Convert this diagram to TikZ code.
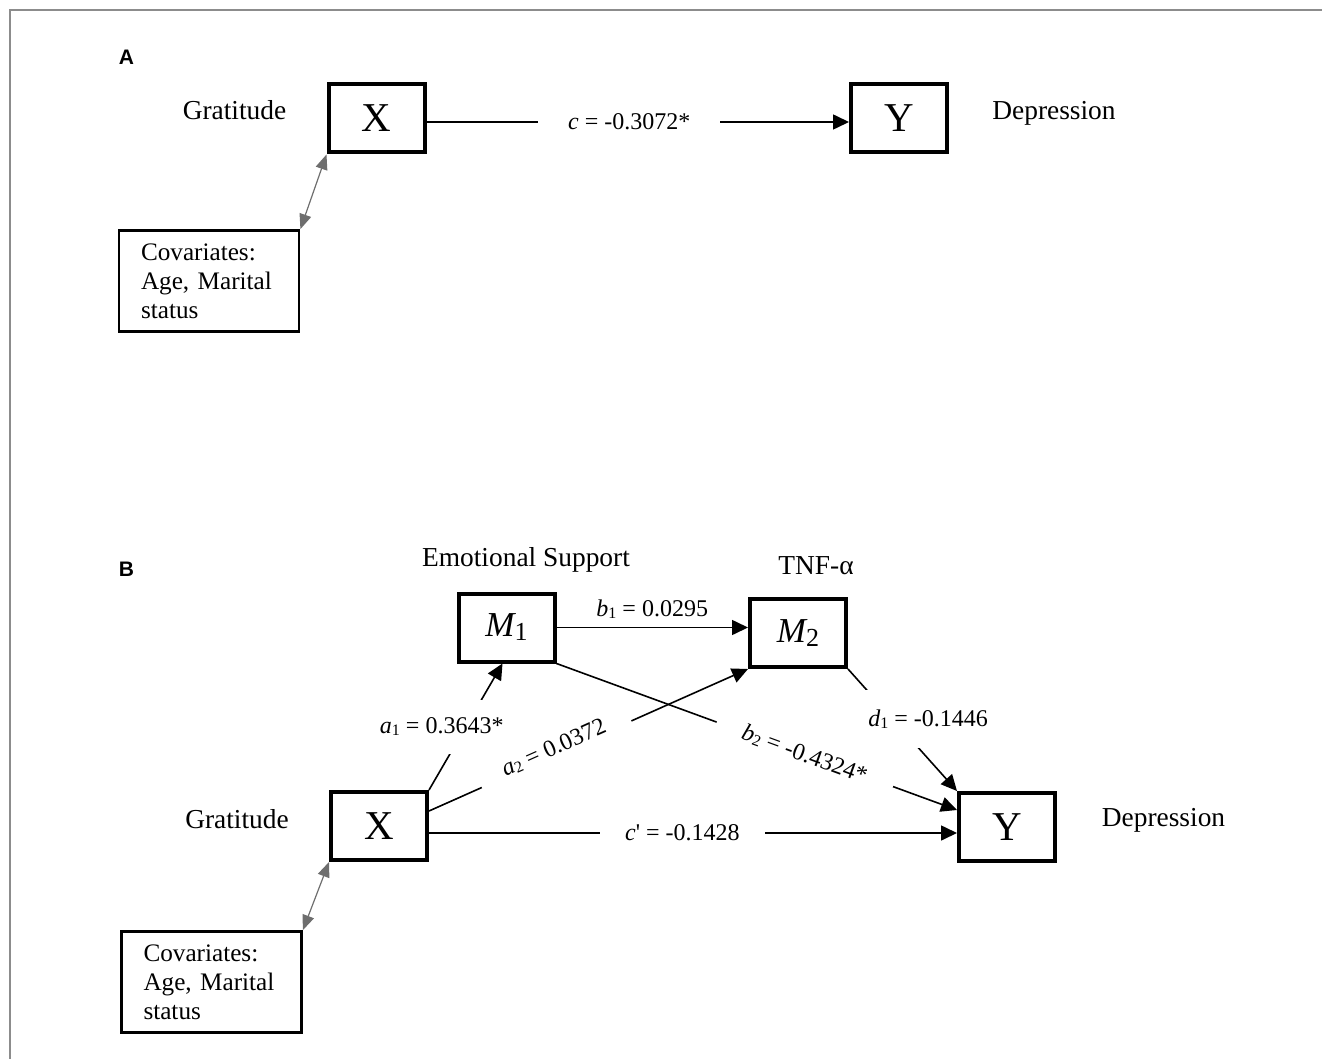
\documentclass[tikz,border=0pt]{standalone}
\usepackage{fontspec}
\setmainfont{Liberation Serif}
\newfontfamily\panelfont{Liberation Sans}
\usetikzlibrary{arrows.meta, positioning}
\definecolor{framegray}{RGB}{140,140,140}
\definecolor{covgray}{RGB}{110,110,110}
\tikzstyle{var}=[draw, line width=2pt, minimum width=48pt,
minimum height=34pt, inner sep=0pt, font=\fontsize{20.5}{22}\selectfont]
\tikzstyle{cov}=[draw, line width=1.4pt, text width=68pt, align=left,
inner xsep=11pt, minimum height=50.5pt, font=\fontsize{12.6}{14.6}\selectfont]
\tikzstyle{varname}=[anchor=base, inner sep=0pt, font=\fontsize{13.7}{16}\selectfont]
\tikzstyle{panel}=[anchor=base, inner sep=0pt, font=\fontsize{10.5}{12}\panelfont\bfseries]
\tikzstyle{coef}=[fill=white, inner sep=1pt, font=\fontsize{12}{14}\selectfont]
\tikzstyle{link}=[line width=0.8pt, -{Triangle[length=8pt,width=7.5pt]}]
\tikzstyle{corr}=[covgray, line width=0.6pt,
{Triangle[length=7.5pt,width=6pt]}-{Triangle[length=7.5pt,width=6pt]}]
\newcommand{\sbs}[1]{{\fontsize{8}{8}\selectfont\raisebox{-0.8pt}{#1}}}
\newcommand{\mvar}[1]{{\fontsize{17.5}{20}\selectfont\itshape M}%
{\fontsize{13}{14}\selectfont\raisebox{-2pt}{#1}}}

\begin{document}
\begin{tikzpicture}[x=0.5pt, y=-0.5pt]
\useasboundingbox (0,0) rectangle (1322,1059);
\draw[framegray, line width=1pt] (10,1059) -- (10,10) -- (1322,10);

% panel A
\draw (126.5,65) node [panel] (panelA) {A};
\draw (376.5,118.5) node [var] (XA) {X};
\draw (899,118.5) node [var] (YA) {Y};
\draw (209,281) node [cov] (covA) {Covariates:\\ Age, Marital\\ status};
\draw (234.5,120) node [varname] (gratA) {Gratitude};
\draw (1054,120) node [varname] (depA) {Depression};
\draw[link] ([yshift=-1.75pt]XA.east) -- ([yshift=-1.75pt]YA.west)
  node [coef, pos=0.48, inner xsep=15pt] {\textit{c} = -0.3072*};
\draw[corr] (covA.north east) -- (XA.south west);

% panel B
\draw (126.5,576) node [panel] (panelB) {B};
\draw (379,826) node [var] (XB) {X};
\draw (1007,827) node [var] (YB) {Y};
\draw (506.5,627.5) node [var] (M1) {\mvar{1}};
\draw (798,633) node [var] (M2) {\mvar{2}};
\draw (211.5,982) node [cov] (covB) {Covariates:\\ Age, Marital\\ status};
\draw (237,828) node [varname] (gratB) {Gratitude};
\draw (1163.5,826) node [varname] (depB) {Depression};
\draw (526,566) node [varname] (emo) {Emotional Support};
\draw (816,574) node [varname] (tnf) {TNF-α};

\draw[link] (M1.east) -- (M1.east -| M2.west)
  node [pos=0.5, anchor=base, yshift=5.5pt, inner sep=0pt,
  font=\fontsize{12}{14}\selectfont] {\textit{b}\sbs{1} = 0.0295};
\draw[link] (XB.north east) -- ([xshift=-2pt]M1.south)
  node [coef, pos=0.5, xshift=-12pt, inner ysep=9pt] {\textit{a}\sbs{1} = 0.3643*};
\draw[link] ([yshift=7.5pt]XB.east) -- (M2.south west)
  node [coef, pos=0.4, sloped, anchor=base, inner xsep=13pt, inner ysep=2pt]
  {\textit{a}\sbs{2} = 0.0372};
\draw[link] (M2.south east) -- (YB.north west)
  node [coef, pos=0.41, xshift=17.7pt, inner xsep=3pt, inner ysep=10pt]
  {\textit{d}\sbs{1} = -0.1446};
\draw[link] (M1.south east) -- ([yshift=8.5pt]YB.west)
  node [coef, pos=0.62, sloped, inner xsep=14pt] {\textit{b}\sbs{2} = -0.4324*};
\draw[link] ([yshift=-3.5pt]XB.east) -- ([yshift=-3.5pt]XB.east -| YB.west)
  node [coef, pos=0.48, inner xsep=12.5pt] {\textit{c}\textquotesingle{} = -0.1428};
\draw[corr] (covB.north east) -- (XB.south west);
\end{tikzpicture}
\end{document}
